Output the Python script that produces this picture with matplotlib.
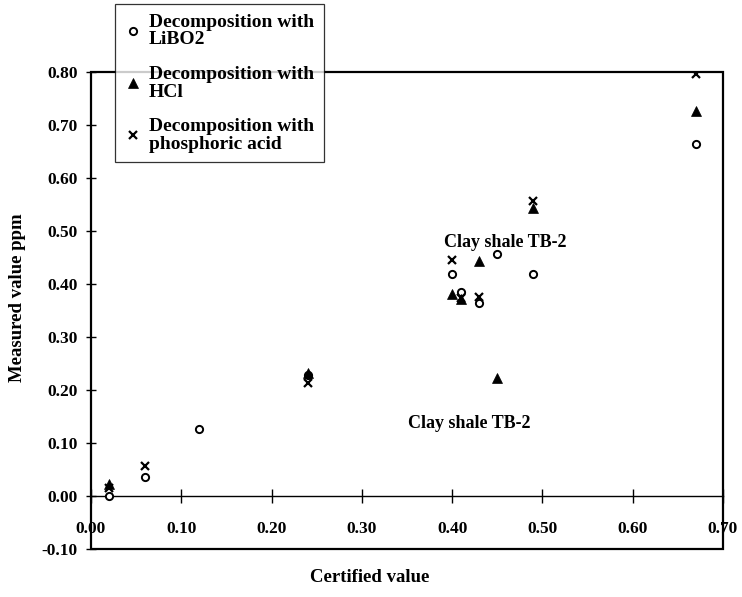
import matplotlib
matplotlib.use("Agg")
import matplotlib.pyplot as plt
from matplotlib.patches import Rectangle

plt.rcParams['font.family'] = ['Liberation Serif', 'DejaVu Serif']
plt.rcParams['font.weight'] = 'bold'

# Data (certified value, measured value)
libo2_x = [0.02, 0.06, 0.12, 0.24, 0.40, 0.41, 0.43, 0.45, 0.49, 0.67]
libo2_y = [0.00, 0.035, 0.126, 0.228, 0.418, 0.384, 0.365, 0.456, 0.418, 0.664]

hcl_x = [0.02, 0.24, 0.40, 0.41, 0.43, 0.45, 0.49, 0.67]
hcl_y = [0.022, 0.233, 0.381, 0.371, 0.443, 0.222, 0.543, 0.726]

phos_x = [0.02, 0.06, 0.24, 0.40, 0.41, 0.43, 0.49, 0.67]
phos_y = [0.015, 0.057, 0.214, 0.446, 0.374, 0.376, 0.556, 0.797]

labels = ["Decomposition with\nLiBO2", "Decomposition with\nHCl",
          "Decomposition with\nphosphoric acid"]
xticks = [0.0, 0.1, 0.2, 0.3, 0.4, 0.5, 0.6, 0.7]
yticks = [-0.1, 0.0, 0.1, 0.2, 0.3, 0.4, 0.5, 0.6, 0.7, 0.8]
annotations = [("Clay shale TB-2", 0.459, 0.479), ("Clay shale TB-2", 0.419, 0.137)]

fig = plt.figure(figsize=(7.42, 5.97), dpi=100)
ax = fig.add_axes([91/742, 1-549/597, (723-91)/742, (549-72)/597])

ax.plot(libo2_x, libo2_y, linestyle='none', marker='o', ms=5.2, mfc='white',
        mec='black', mew=1.4, label=labels[0], zorder=3)
ax.plot(hcl_x, hcl_y, linestyle='none', marker='^', ms=6.5, mfc='black',
        mec='black', mew=0.5, label=labels[1], zorder=4)
ax.plot(phos_x, phos_y, linestyle='none', marker='x', ms=5.5, mec='black',
        mew=1.6, label=labels[2], zorder=5)

ax.set_xlim(0, 0.7)
ax.set_ylim(-0.1, 0.8)

for s in ['top', 'right', 'left']:
    ax.spines[s].set_visible(False)
ax.spines['bottom'].set_position(('data', 0))
ax.spines['bottom'].set_linewidth(1.0)
ax.add_patch(Rectangle((0, 0), 1, 1, transform=ax.transAxes, fill=False,
                       lw=1.6, ec='black', clip_on=False, zorder=6))

ax.set_xticks(xticks)
ax.set_xticklabels([f"{v:.2f}" for v in xticks])
ax.set_yticks(yticks)
ax.set_yticklabels([f"{v:.2f}" for v in yticks])
ax.tick_params(axis='x', direction='inout', length=10, width=1.0, pad=13,
               labelsize=12.5)
ax.tick_params(axis='y', direction='inout', length=7, width=1.0, pad=6,
               labelsize=12.5)
for lab in ax.get_xticklabels() + ax.get_yticklabels():
    lab.set_fontweight('bold')

for txt, x, y in annotations:
    ax.text(x, y, txt, ha='center', va='center', fontsize=13, fontweight='bold')

fig.text(18/742, 1-298/597, "Measured value ppm", rotation=90, ha='center',
         va='center', fontsize=13.5, fontweight='bold')
fig.text(370/742, 1-578/597, "Certified value", ha='center', va='center',
         fontsize=13.5, fontweight='bold')

leg = ax.legend(loc='upper left', bbox_to_anchor=(115/742, 1-4/597),
                bbox_transform=fig.transFigure, borderaxespad=0,
                frameon=True, fancybox=False, edgecolor='black',
                handlelength=0.8, handletextpad=0.45, labelspacing=0.9,
                borderpad=0.5, prop={'size': 14, 'weight': 'bold'})
leg.get_frame().set_linewidth(0.9)
leg.set_zorder(10)
for t in leg.get_texts():
    t.set_linespacing(1.05)

fig.savefig("out.png", dpi=100)
